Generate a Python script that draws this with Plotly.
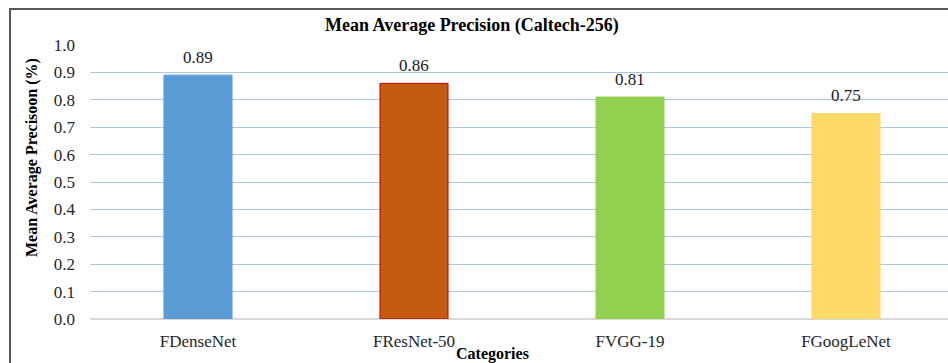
import plotly.graph_objects as go

# Mean average precision per model on Caltech-256
categories = ["FDenseNet", "FResNet-50", "FVGG-19", "FGoogLeNet"]
map_values = [0.89, 0.86, 0.81, 0.75]
bar_colors = ["#5B9BD5", "#C55A11", "#92D050", "#FFD966"]
bar_edges = ["#5B9BD5", "#C00000", "#92D050", "#FFD966"]
y_ticks = [0.0, 0.1, 0.2, 0.3, 0.4, 0.5, 0.6, 0.7, 0.8, 0.9, 1.0]

W, H = 948, 363
ML, MR, MT, MB = 90, 0, 45, 44
PW, PH = W - ML - MR, H - MT - MB
FONT = "Liberation Serif, Times New Roman, serif"


def fx(px):
    return (px - ML) / PW


def fy(py):
    return (H - MB - py) / PH


fig = go.Figure(
    go.Bar(
        x=categories,
        y=map_values,
        width=0.315,
        marker=dict(color=bar_colors, line=dict(color=bar_edges, width=1)),
        hoverinfo="x+y",
    )
)

# value labels above each bar
for c, v in zip(categories, map_values):
    fig.add_annotation(
        x=c, y=v, text=f"{v:.2f}", showarrow=False, yshift=18,
        xanchor="center", yanchor="middle",
        font=dict(family=FONT, size=17, color="#1a1a1a"),
    )

# chart title and axis titles
fig.add_annotation(
    x=fx(472), y=fy(25), xref="paper", yref="paper", showarrow=False,
    xanchor="center", yanchor="middle",
    text="<b>Mean Average Precision (Caltech-256)</b>",
    font=dict(family=FONT, size=18, color="#000000"),
)
fig.add_annotation(
    x=fx(492), y=fy(354), xref="paper", yref="paper", showarrow=False,
    xanchor="center", yanchor="middle",
    text="<b>Categories</b>", font=dict(family=FONT, size=16, color="#000000"),
)
fig.add_annotation(
    x=fx(32), y=fy(158), xref="paper", yref="paper", showarrow=False, textangle=-90,
    xanchor="center", yanchor="middle",
    text="<b>Mean Average Precisoon (%)</b>", font=dict(family=FONT, size=16, color="#000000"),
)

# outer frame of the chart area
fig.add_shape(
    type="rect", xref="paper", yref="paper",
    x0=fx(10), x1=fx(1000), y0=fy(400), y1=fy(9),
    line=dict(color="#5a5a5a", width=2), fillcolor="rgba(0,0,0,0)", layer="above",
)

fig.update_layout(
    width=W, height=H,
    margin=dict(l=ML, r=MR, t=MT, b=MB),
    paper_bgcolor="white", plot_bgcolor="white",
    showlegend=False,
    font=dict(family=FONT, size=17, color="#262626"),
    xaxis=dict(
        range=[-0.5, -0.5 + PW / 216], showgrid=False, showline=False, zeroline=False,
        ticks="", ticklabelstandoff=10, tickfont=dict(family=FONT, size=17, color="#262626"),
    ),
    yaxis=dict(
        range=[0, 1.0], tickvals=y_ticks, tickformat=".1f",
        showgrid=True, gridcolor="#A9C8E6", gridwidth=1,
        zeroline=True, zerolinecolor="#D9D9D9", zerolinewidth=2,
        showline=False, ticks="", ticklabelstandoff=14,
        tickfont=dict(family=FONT, size=17, color="#262626"),
    ),
)

fig.write_html("out.html")
